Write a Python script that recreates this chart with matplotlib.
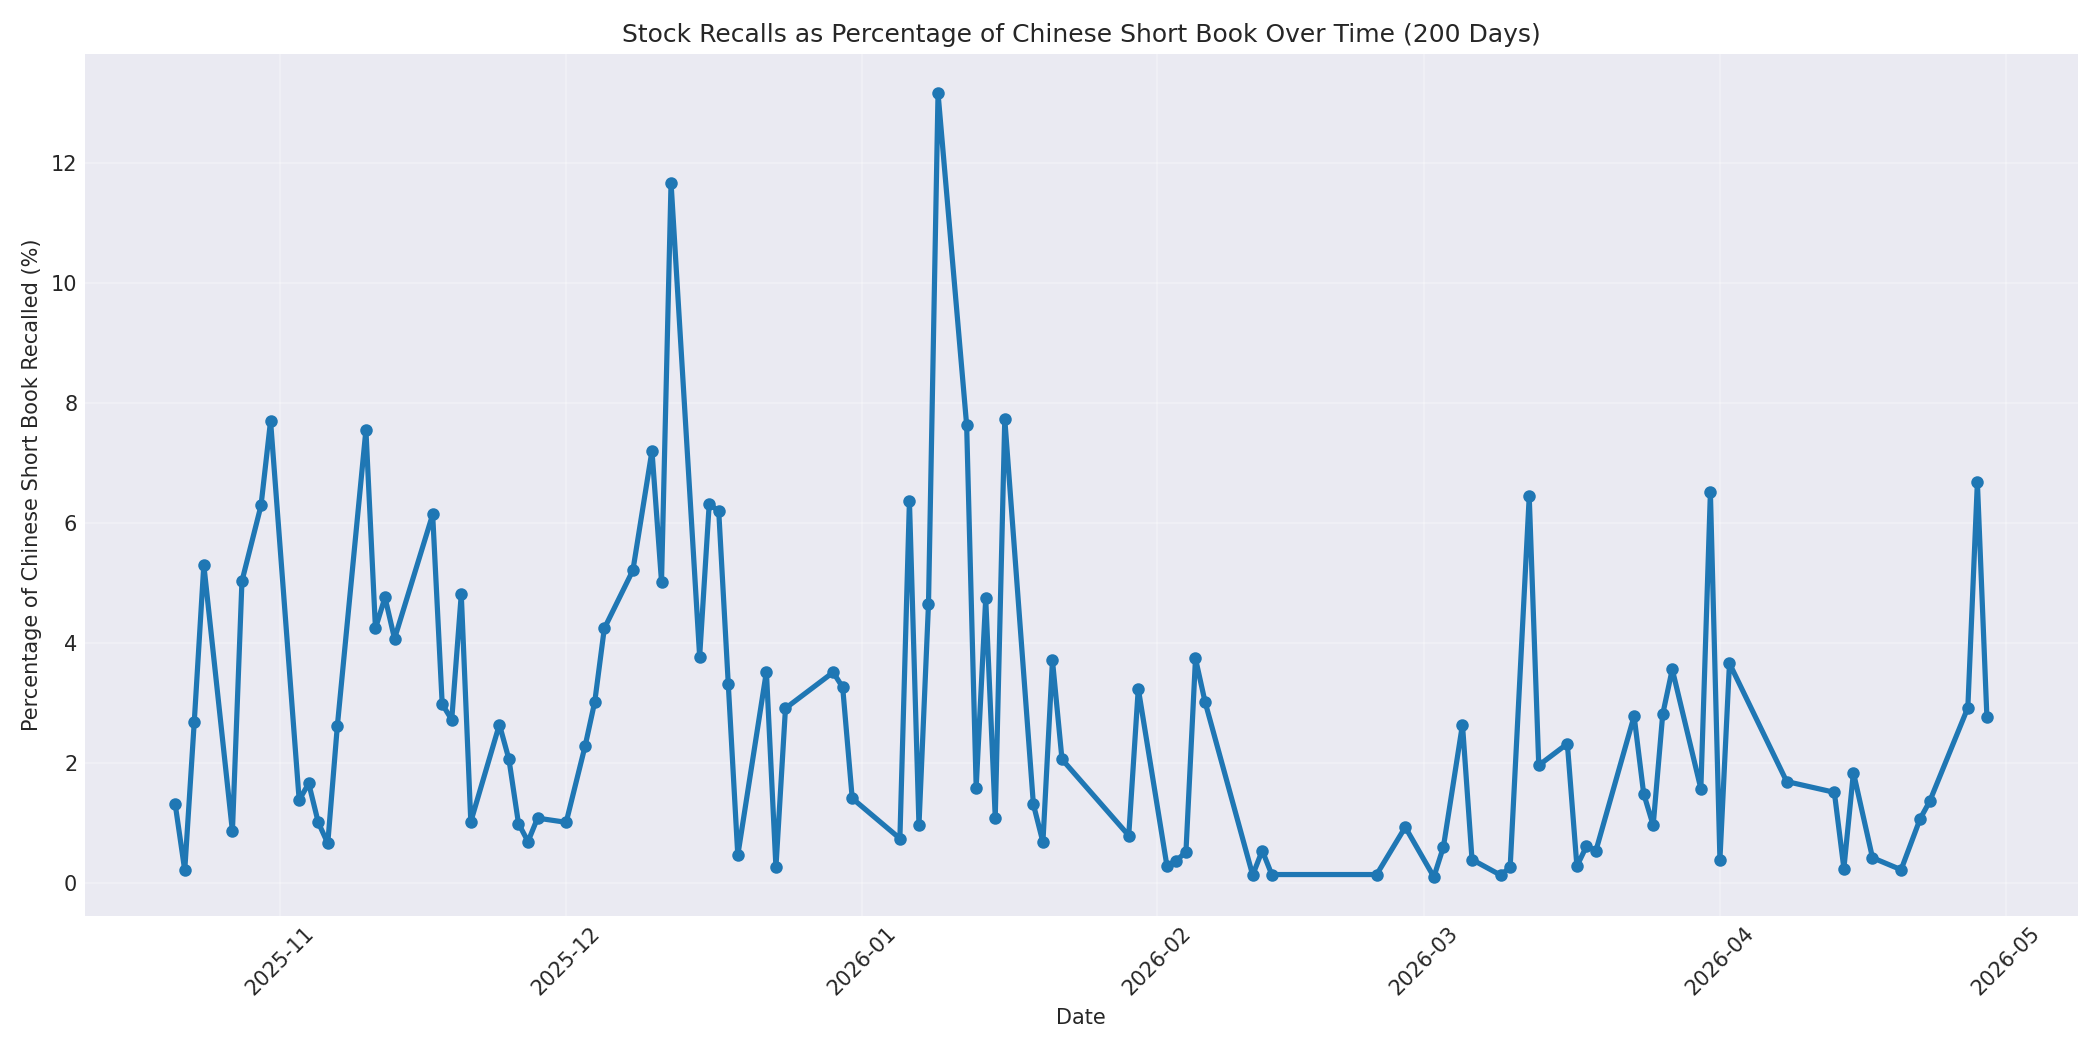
import matplotlib
matplotlib.use("Agg")
import matplotlib.pyplot as plt
import matplotlib.dates as mdates
import pandas as pd

dates = [
    "2025-10-21", "2025-10-22", "2025-10-23", "2025-10-24", "2025-10-27", "2025-10-28",
    "2025-10-30", "2025-10-31", "2025-11-03", "2025-11-04", "2025-11-05", "2025-11-06",
    "2025-11-07", "2025-11-10", "2025-11-11", "2025-11-12", "2025-11-13", "2025-11-17",
    "2025-11-18", "2025-11-19", "2025-11-20", "2025-11-21", "2025-11-24", "2025-11-25",
    "2025-11-26", "2025-11-27", "2025-11-28", "2025-12-01", "2025-12-03", "2025-12-04",
    "2025-12-05", "2025-12-08", "2025-12-10", "2025-12-11", "2025-12-12", "2025-12-15",
    "2025-12-16", "2025-12-17", "2025-12-18", "2025-12-19", "2025-12-22", "2025-12-23",
    "2025-12-24", "2025-12-29", "2025-12-30", "2025-12-31", "2026-01-05", "2026-01-06",
    "2026-01-07", "2026-01-08", "2026-01-09", "2026-01-12", "2026-01-13", "2026-01-14",
    "2026-01-15", "2026-01-16", "2026-01-19", "2026-01-20", "2026-01-21", "2026-01-22",
    "2026-01-29", "2026-01-30", "2026-02-02", "2026-02-03", "2026-02-04", "2026-02-05",
    "2026-02-06", "2026-02-11", "2026-02-12", "2026-02-13", "2026-02-24", "2026-02-27",
    "2026-03-02", "2026-03-03", "2026-03-05", "2026-03-06", "2026-03-09", "2026-03-10",
    "2026-03-12", "2026-03-13", "2026-03-16", "2026-03-17", "2026-03-18", "2026-03-19",
    "2026-03-23", "2026-03-24", "2026-03-25", "2026-03-26", "2026-03-27", "2026-03-30",
    "2026-03-31", "2026-04-01", "2026-04-02", "2026-04-08", "2026-04-13", "2026-04-14",
    "2026-04-15", "2026-04-17", "2026-04-20", "2026-04-22", "2026-04-23", "2026-04-27",
    "2026-04-28", "2026-04-29",
]

recall_pct = [
    1.31, 0.21, 2.69, 5.30, 0.86, 5.03,
    6.29, 7.70, 1.38, 1.66, 1.01, 0.66,
    2.61, 7.55, 4.24, 4.76, 4.07, 6.14,
    2.98, 2.72, 4.81, 1.02, 2.64, 2.06,
    0.99, 0.69, 1.08, 1.01, 2.29, 3.02,
    4.24, 5.21, 7.20, 5.02, 11.67, 3.77,
    6.31, 6.20, 3.32, 0.46, 3.52, 0.26,
    2.91, 3.51, 3.26, 1.41, 0.74, 6.37,
    0.96, 4.65, 13.16, 7.63, 1.59, 4.74,
    1.09, 7.73, 1.31, 0.68, 3.71, 2.06,
    0.79, 3.24, 0.29, 0.37, 0.52, 3.74,
    3.02, 0.13, 0.54, 0.14, 0.14, 0.93,
    0.10, 0.60, 2.64, 0.39, 0.13, 0.26,
    6.44, 1.96, 2.32, 0.28, 0.61, 0.54,
    2.78, 1.49, 0.96, 2.81, 3.56, 1.57,
    6.51, 0.39, 3.66, 1.69, 1.51, 0.24,
    1.84, 0.42, 0.22, 1.07, 1.36, 2.92,
    6.68, 2.76,
]

title = "Stock Recalls as Percentage of Chinese Short Book Over Time (200 Days)"
xlabel = "Date"
ylabel = "Percentage of Chinese Short Book Recalled (%)"

plt.style.use("seaborn-v0_8-darkgrid")
plt.rcParams["font.family"] = ["DejaVu Sans"]
fig, ax = plt.subplots(figsize=(14, 7), dpi=150)

x = pd.to_datetime(dates)
ax.plot(x, recall_pct, marker="o", linewidth=2.5, markersize=5, color="#1f77b4")

ax.set_title(title, fontsize=12)
ax.set_xlabel(xlabel, fontsize=10)
ax.set_ylabel(ylabel, fontsize=10)
ax.xaxis.set_major_locator(mdates.MonthLocator())
ax.xaxis.set_major_formatter(mdates.DateFormatter("%Y-%m"))
ax.tick_params(axis="both", labelsize=10)
plt.setp(ax.get_xticklabels(), rotation=45)
ax.grid(True, alpha=0.3)

fig.tight_layout()
fig.savefig("out.png", dpi=150)
